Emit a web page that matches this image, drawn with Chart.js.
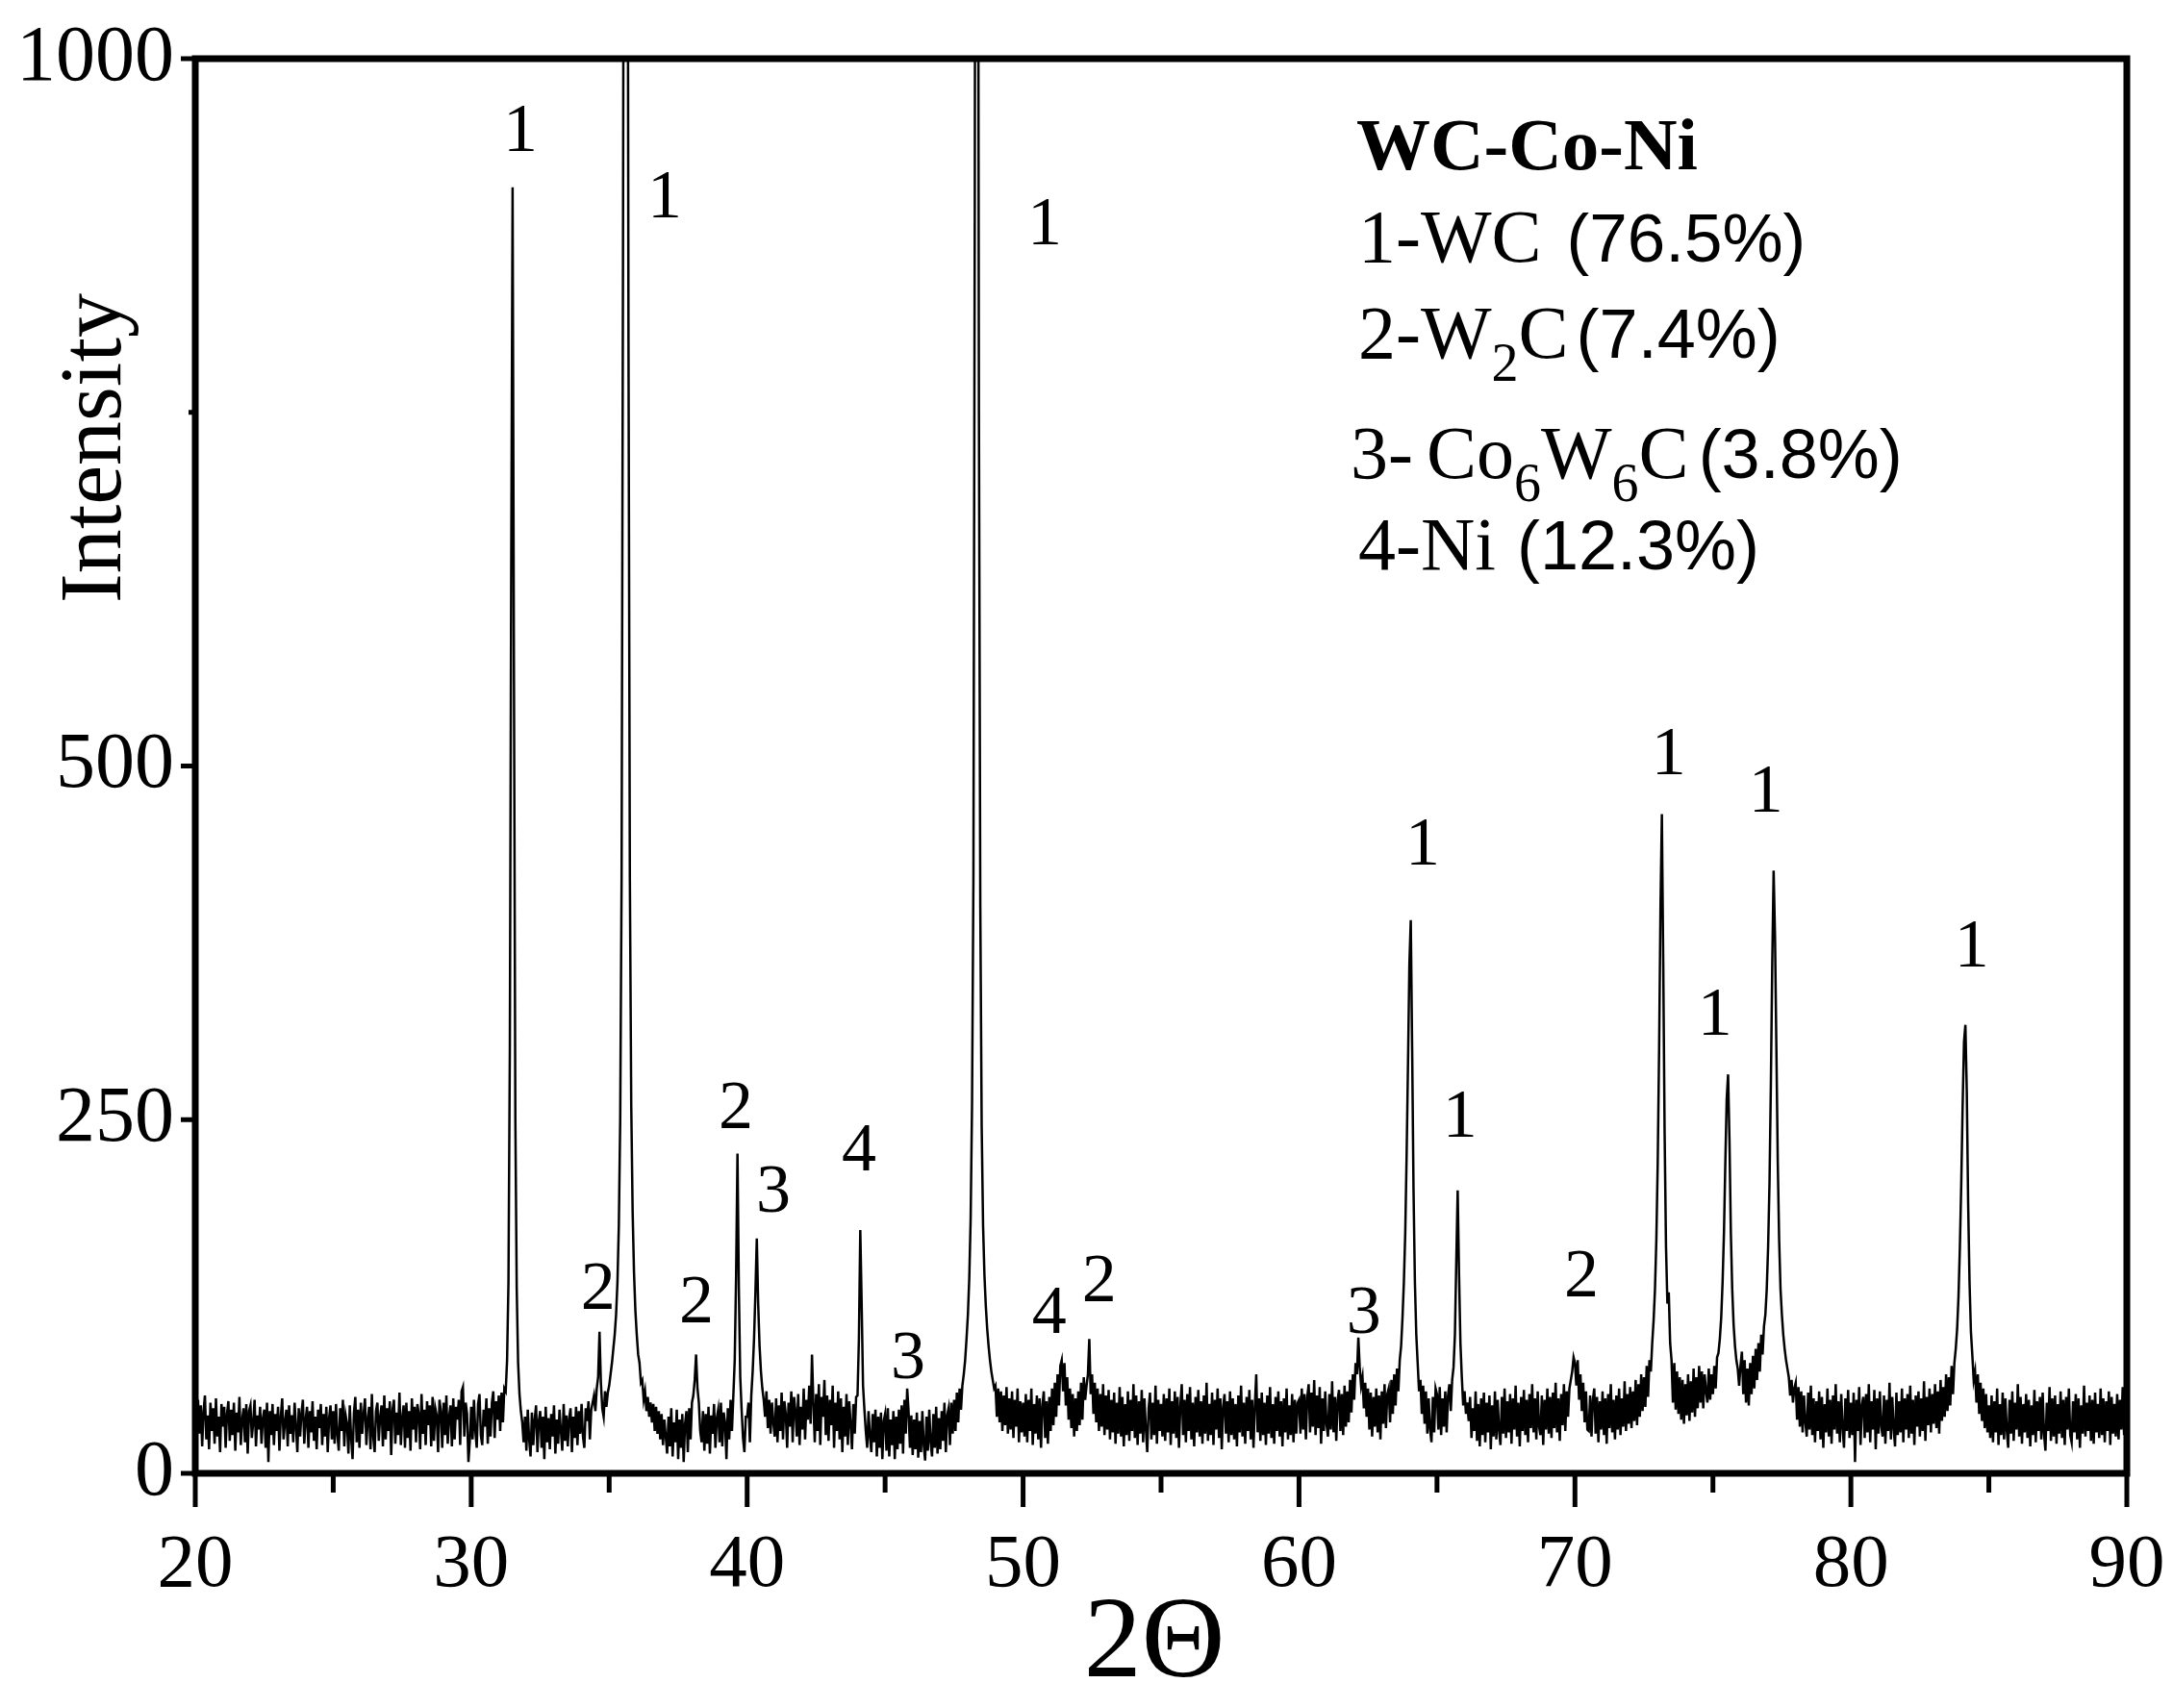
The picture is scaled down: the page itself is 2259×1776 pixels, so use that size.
<!DOCTYPE html>
<html>
<head>
<meta charset="utf-8">
<script src="https://cdn.jsdelivr.net/npm/chart.js@4.4.0/dist/chart.umd.min.js"></script>
<style>
html,body{margin:0;padding:0;background:#fff;}
#wrap{width:2259px;height:1776px;position:relative;background:#fff;}
canvas{display:block;}
</style>
</head>
<body>
<div id="wrap"><canvas id="c" width="2259" height="1776"></canvas></div>
<script>
// ---- data: XRD intensity, sampled every 0.05 deg (2Theta), one array per 5 deg ----
const STEP = 0.05;
const seg20 = [
45,22,52,28,48,19,44,55,24,41,
17,50,30,46,21,53,26,40,15,49,
33,47,18,42,51,23,45,27,50,16,
43,29,54,20,38,46,22,49,14,44,
48,25,36,52,19,41,31,47,21,39,
45,18,50,8,44,27,49,20,42,30,
47,16,40,53,24,36,45,19,48,28,
41,22,50,33,15,46,26,43,52,21,
38,47,18,44,29,51,23,40,17,45,
32,49,20,42,26,47,15,39,48,24];
const seg25 = [
44,21,49,27,16,46,30,52,19,41,
35,14,48,25,10,43,54,22,45,18,
50,28,42,53,20,38,47,17,56,26,
15,44,50,23,40,48,19,55,24,46,
30,51,13,45,52,21,43,27,57,20,
39,48,18,50,25,44,16,53,31,47,
22,49,42,17,56,28,45,20,51,34,
48,19,54,23,46,41,15,52,44,18,
50,27,55,21,40,48,19,53,24,47,
38,52,20,58,61,26,50,42,8,23];
const seg30 = [
47,24,52,30,18,49,56,27,20,45,
33,53,21,46,26,50,58,25,51,38,
55,30,57,36,60,58,80,135,300,640,
909,560,250,130,78,56,44,36,22,40,
16,45,24,12,43,20,38,48,15,37,
44,18,40,10,47,22,39,17,42,26,
48,14,38,21,45,30,16,49,23,41,
19,39,46,15,40,25,47,20,44,28,
49,26,18,46,37,51,24,45,50,55,
44,60,68,100,64,46,40,58,47,57];
const seg35 = [
62,70,78,88,98,112,135,175,250,420,
850,1450,1750,1400,800,420,260,185,142,115,
98,84,78,64,66,52,58,44,54,40,
50,36,49,30,47,28,44,24,42,20,
38,26,14,40,19,46,12,36,22,45,
10,38,18,42,8,35,44,15,46,24,
50,55,66,84,60,50,30,22,44,16,
42,21,47,14,41,28,49,18,39,45,
22,50,19,43,36,10,46,24,52,30,
55,80,140,226,130,68,45,25,15,40];
const seg40 = [
40,50,22,55,72,95,128,166,120,90,
72,60,52,40,58,32,52,28,50,36,
26,53,22,48,30,57,24,51,42,18,
50,33,58,22,54,44,26,56,20,47,
31,60,24,52,38,62,35,84,50,22,
56,30,63,20,54,40,66,27,55,23,
52,34,62,18,50,30,58,24,53,15,
47,26,56,20,51,35,17,49,28,54,
55,95,172,120,62,45,30,18,44,26,
15,42,22,45,12,40,18,43,10,37];
const seg45 = [
42,16,46,12,38,20,44,10,40,17,
45,21,48,14,52,28,60,44,18,41,
13,38,17,43,11,37,15,44,20,9,
40,16,45,22,12,42,18,47,14,39,
17,44,23,50,15,41,46,20,50,28,
52,30,57,36,60,45,62,70,80,95,
112,138,180,260,420,900,1750,1450,750,400,
245,175,140,118,102,90,80,72,66,60,
62,40,60,36,58,30,55,34,61,28,
53,31,58,25,52,33,60,22,51,29];
const seg50 = [
50,26,56,22,52,30,60,20,49,28,
55,24,53,18,48,58,25,51,21,54,
30,60,34,64,40,70,48,76,80,58,
78,48,68,38,60,32,56,26,53,30,
58,34,64,38,68,52,62,70,95,56,
70,42,64,36,60,30,56,33,63,27,
55,31,59,24,52,29,57,21,50,28,
61,26,54,19,49,27,58,23,52,30,
63,25,55,20,51,28,59,22,53,31,
15,46,57,24,50,27,62,21,52,30];
const seg55 = [
49,26,56,23,53,29,60,20,51,28,
58,25,54,18,48,63,27,52,22,56,
30,61,24,50,19,54,29,59,26,51,
21,55,28,64,23,49,27,57,20,52,
31,60,25,53,17,47,56,28,51,22,
58,27,53,24,49,19,55,29,62,26,
50,21,54,30,59,24,52,18,48,70,
29,53,23,57,27,50,20,55,28,61,
25,49,21,54,30,58,26,51,19,53,
29,60,24,48,27,56,22,52,28,50];
const seg60 = [
52,28,60,31,56,24,54,63,29,57,
33,66,27,55,32,61,21,53,30,58,
34,26,56,31,65,29,54,23,52,59,
30,56,27,62,33,58,36,66,43,70,
52,78,70,96,75,62,68,46,64,40,
60,31,57,26,54,33,60,29,55,24,
58,35,63,32,56,60,36,66,42,70,
48,74,58,80,90,110,135,170,225,290,
360,391,300,200,135,98,78,58,66,42,
62,35,58,28,53,31,22,54,29,60];
const seg65 = [
56,31,61,27,53,33,58,29,55,63,
44,66,75,98,150,200,140,92,68,48,
58,42,50,37,54,25,46,30,58,23,
49,19,53,27,57,22,50,29,55,17,
48,26,58,24,52,30,20,54,28,60,
25,51,29,56,21,53,31,62,26,50,
19,54,30,59,27,52,22,56,32,63,
29,53,24,58,33,27,55,20,52,31,
60,28,54,25,57,32,64,29,53,23,
56,34,63,30,58,40,60,66,72,82];
const seg70 = [
78,62,80,52,70,44,64,36,58,31,
30,55,26,52,60,28,54,22,51,31,
58,27,53,21,56,32,63,29,52,24,
55,31,60,27,53,33,65,30,56,35,
61,32,58,37,66,34,63,40,70,44,
68,47,76,54,80,72,92,108,130,165,
220,300,400,466,360,240,160,120,128,92,
80,50,78,45,72,42,68,38,66,35,
63,41,70,37,65,43,74,40,68,46,
76,50,72,46,70,58,50,74,52,70];
const seg75 = [
56,76,60,82,85,95,110,135,170,220,
265,282,235,170,130,105,90,80,74,62,
76,86,56,80,50,74,48,78,56,83,
60,88,66,92,72,98,84,104,112,130,
160,205,275,360,426,380,300,220,165,130,
112,98,88,80,74,68,55,66,50,60,
64,38,61,33,58,29,55,36,26,57,
31,62,27,53,22,51,30,58,24,54,
18,49,29,60,26,52,21,55,31,63,
28,51,22,56,32,18,53,30,59,25];
const seg80 = [
50,27,57,8,52,30,61,20,48,54,
25,56,29,63,22,51,31,59,17,53,
28,58,33,26,55,21,52,30,64,24,
54,32,19,57,27,51,29,60,22,53,
31,56,25,62,28,52,20,55,33,58,
26,53,30,65,23,54,34,60,29,56,
35,63,32,58,28,66,37,61,40,70,
44,68,48,76,56,78,88,102,125,160,
205,260,305,317,270,190,135,100,84,66,
72,50,70,42,64,37,60,32,56,29];
const seg85 = [
48,25,55,22,51,29,60,20,49,27,
57,24,53,30,18,52,28,58,23,50,
31,63,26,54,21,49,29,56,25,52,
19,48,27,59,22,51,30,54,24,57,
28,16,50,30,61,23,53,26,55,21,
49,28,58,25,52,20,54,31,60,27,
22,51,29,56,24,53,18,48,28,62,
26,50,30,55,23,52,21,57,29,49,
25,60,27,53,22,51,30,58,20,54,
28,49,26,56,24,52,31,61,27,50,
30];
const segmentStarts = [20,25,30,35,40,45,50,55,60,65,70,75,80,85];
const segments = [seg20,seg25,seg30,seg35,seg40,seg45,seg50,seg55,seg60,seg65,seg70,seg75,seg80,seg85];

// axis tick labels
const xTickLabels = [20,30,40,50,60,70,80,90];
const yTickLabels = [0,250,500,1000];

// peak phase labels (text, anchor in data coordinates)
const peakLabelText = ['1','1','1','2','2','2','3','4','3','4','2','3','1','1','2','1','1','1','1'];
const peakLabelX = [31.78,37.01,50.78,34.60,38.16,39.59,40.95,44.05,45.83,50.95,52.76,62.35,64.48,65.83,70.23,73.40,75.07,76.92,84.38];
const peakLabelY = [935,888,869,116,107,244,185,214,67,99,122,99,430,238,125,494,310,468,358];

// ---- build points ----
const points = [];
segments.forEach((arr, k) => {
  const start = segmentStarts[k];
  arr.forEach((v, i) => points.push({x: +(start + i * STEP).toFixed(2), y: v}));
});

const SERIF = '"Liberation Serif", "Times New Roman", serif';
const SANS = '"Liberation Sans", Arial, sans-serif';

const framePlugin = {
  id: 'frame',
  afterDraw(chart) {
    const {ctx, chartArea: a, scales: {x, y}} = chart;
    ctx.save();
    ctx.strokeStyle = '#000';
    ctx.fillStyle = '#000';
    // frame
    ctx.lineWidth = 7;
    ctx.lineJoin = 'miter';
    ctx.strokeRect(a.left, a.top, a.right - a.left, a.bottom - a.top);
    // x ticks (outward)
    ctx.lineWidth = 5;
    x.ticks.forEach(t => {
      const px = x.getPixelForValue(t.value);
      const len = xTickLabels.includes(t.value) ? 35 : 20;
      ctx.beginPath(); ctx.moveTo(px, a.bottom); ctx.lineTo(px, a.bottom + len); ctx.stroke();
    });
    // y ticks (outward)
    y.ticks.forEach(t => {
      const py = y.getPixelForValue(t.value);
      const len = yTickLabels.includes(t.value) ? 15 : 7;
      ctx.beginPath(); ctx.moveTo(a.left, py); ctx.lineTo(a.left - len, py); ctx.stroke();
    });
    // peak labels
    ctx.font = '72px ' + SERIF;
    ctx.textAlign = 'center';
    ctx.textBaseline = 'alphabetic';
    peakLabelText.forEach((t, i) => {
      ctx.fillText(t, x.getPixelForValue(peakLabelX[i]), y.getPixelForValue(peakLabelY[i]));
    });
    // axis titles
    ctx.font = '120px ' + SERIF;
    ctx.fillText('2\u0398', 1200, 1743);
    ctx.save();
    ctx.translate(125, 466);
    ctx.rotate(-Math.PI / 2);
    ctx.font = '92px ' + SERIF;
    ctx.fillText('Intensity', 0, 0);
    ctx.restore();
    // legend block
    ctx.textAlign = 'left';
    ctx.font = 'bold 77px ' + SERIF;
    ctx.fillText('WC-Co-Ni', 1410, 176);
    const runs = (x0, base, parts) => {
      let cx = x0;
      parts.forEach(p => {
        if (p.gap) { cx += p.gap; return; }
        ctx.font = p.f;
        ctx.fillText(p.t, cx, base + (p.dy || 0));
        cx += ctx.measureText(p.t).width;
      });
    };
    const M = '78px ' + SERIF, S = '56px ' + SERIF, P = '72px ' + SANS;
    runs(1412, 272, [{t:'1-WC', f:M}, {gap:26}, {t:'(76.5%)', f:'71px ' + SANS}]);
    runs(1412, 372, [{t:'2-W', f:M}, {t:'2', f:S, dy:24}, {t:'C', f:M}, {gap:8}, {t:'(7.4%)', f:P}]);
    runs(1404, 497, [{t:'3-', f:M}, {gap:14}, {t:'Co', f:M}, {t:'6', f:S, dy:24}, {t:'W', f:M}, {t:'6', f:S, dy:24}, {t:'C', f:M}, {gap:10}, {t:'(3.8%)', f:P}]);
    runs(1412, 592, [{t:'4-Ni', f:M}, {gap:22}, {t:'(12.3%)', f:P}]);
    ctx.restore();
  }
};

new Chart(document.getElementById('c').getContext('2d'), {
  type: 'line',
  data: {
    datasets: [{
      data: points,
      borderColor: '#000',
      borderWidth: 2.5,
      pointRadius: 0,
      tension: 0,
      fill: false
    }]
  },
  options: {
    responsive: false,
    animation: false,
    devicePixelRatio: 1,
    events: [],
    layout: {padding: {left: 0, top: 61, right: 48, bottom: 0}},
    plugins: {legend: {display: false}, tooltip: {enabled: false}},
    scales: {
      x: {
        type: 'linear', min: 20, max: 90, position: 'bottom',
        afterFit(s) { s.height = 244; },
        ticks: {
          stepSize: 5, autoSkip: false, maxRotation: 0, minRotation: 0, padding: 0, color: '#000',
          font: {family: SERIF, size: 79},
          callback: v => xTickLabels.includes(v) ? String(v) : ''
        },
        grid: {display: false, drawTicks: true, tickLength: 49},
        border: {display: false}
      },
      y: {
        min: 0, max: 1000,
        afterFit(s) { s.width = 203; },
        ticks: {
          stepSize: 250, padding: 0, color: '#000',
          font: {family: SERIF, size: 82},
          callback: v => yTickLabels.includes(v) ? String(v) : ''
        },
        grid: {display: false, drawTicks: true, tickLength: 22},
        border: {display: false}
      }
    }
  },
  plugins: [framePlugin]
});
</script>
</body>
</html>
